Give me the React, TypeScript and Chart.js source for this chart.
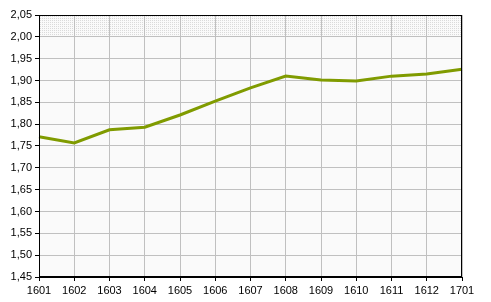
import React, { useEffect, useRef } from "react";
import { Chart, registerables } from "chart.js";

Chart.register(...registerables);

const categories = ["1601", "1602", "1603", "1604", "1605", "1606", "1607", "1608", "1609", "1610", "1611", "1612", "1701"];
const values = [1.771, 1.757, 1.787, 1.793, 1.821, 1.853, 1.883, 1.910, 1.901, 1.899, 1.910, 1.915, 1.926];
const yMin = 1.45;
const yMax = 2.05;
const yStep = 0.05;
const bandFrom = 2.0;

const bgPlugin = {
  id: "bgPlugin",
  beforeDraw(chart: any) {
    const { ctx, chartArea, scales } = chart;
    const { left, top, right, bottom } = chartArea;
    ctx.save();
    ctx.fillStyle = "#fafafa";
    ctx.fillRect(left, top, right - left, bottom - top);
    const pc = document.createElement("canvas");
    pc.width = 2;
    pc.height = 2;
    const p = pc.getContext("2d")!;
    p.fillStyle = "#fafafa";
    p.fillRect(0, 0, 2, 2);
    p.fillStyle = "#dadada";
    p.fillRect(0, 0, 1, 1);
    const pattern = ctx.createPattern(pc, "repeat");
    const yb = scales.y.getPixelForValue(bandFrom);
    ctx.fillStyle = pattern;
    ctx.fillRect(left, top, right - left, yb - top);
    ctx.restore();
  },
  afterDraw(chart: any) {
    const { ctx, chartArea } = chart;
    ctx.save();
    ctx.strokeStyle = "#000";
    ctx.lineWidth = 1;
    ctx.strokeRect(Math.round(chartArea.left) + 0.5, Math.round(chartArea.top) + 0.5, Math.round(chartArea.right - chartArea.left) - 1, Math.round(chartArea.bottom - chartArea.top) - 1);
    ctx.restore();
  },
};

export default function App() {
  const ref = useRef<HTMLCanvasElement>(null);
  useEffect(() => {
    document.body.style.margin = "0";
    const chart = new Chart(ref.current!, {
      type: "line",
      data: {
        labels: categories,
        datasets: [
          {
            data: values,
            borderColor: "#809b00",
            borderWidth: 3,
            pointRadius: 0,
            tension: 0,
            fill: false,
          },
        ],
      },
      options: {
        animation: false,
        responsive: false,
        maintainAspectRatio: false,
        layout: { padding: { top: 15, right: 29, left: 0, bottom: 0 } },
        plugins: { legend: { display: false }, tooltip: { enabled: false } },
        scales: {
          x: {
            offset: false,
            grid: { color: "#c0c0c0", tickColor: "#000", tickLength: 4, drawOnChartArea: true },
            border: { display: true, color: "#000" },
            ticks: { color: "#000", font: { family: "Liberation Sans, Arial", size: 11 }, maxRotation: 0, autoSkip: false, padding: 3 },
            afterFit(s: any) { s.height = 25; },
          },
          y: {
            min: yMin,
            max: yMax,
            grid: { color: "#c0c0c0", tickColor: "#000", tickLength: 4 },
            border: { display: true, color: "#000" },
            ticks: {
              stepSize: yStep,
              color: "#000",
              font: { family: "Liberation Sans, Arial", size: 11 },
              padding: 3,
              callback: (v: any) => Number(v).toFixed(2).replace(".", ","),
            },
            afterFit(s: any) { s.width = 39; },
          },
        },
      },
      plugins: [bgPlugin],
    });
    return () => chart.destroy();
  }, []);
  return (
    <div style={{ position: "absolute", left: 0, top: 0, width: 491, height: 302 }}>
      <canvas ref={ref} width={491} height={302} />
    </div>
  );
}
